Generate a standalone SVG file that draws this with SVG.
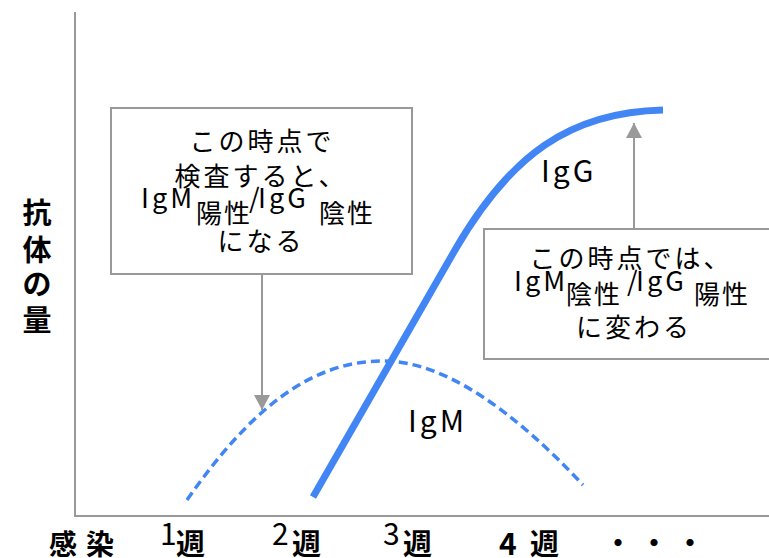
<svg xmlns="http://www.w3.org/2000/svg" width="769" height="558" viewBox="0 0 769 558">
<style>
text{font-family:"Noto Sans CJK JP","Noto Sans",sans-serif;fill:#000}
.box{fill:#fff;stroke:#999;stroke-width:2}
.ax{stroke:#999;stroke-width:2;fill:none}
.arr{stroke:#999;stroke-width:2;fill:none;marker-end:url(#ah)}
.jp{font-size:26px;letter-spacing:3px}
.jp2{font-size:26px;letter-spacing:2px}
.lat{font-size:27px;letter-spacing:3px}
.lbl{font-size:30px;letter-spacing:3px}
.yl{font-size:29px;font-weight:bold}
.wk{font-size:29px;font-weight:bold}
.num{font-size:30px}
</style>
<defs>
<marker id="ah" markerUnits="userSpaceOnUse" markerWidth="16" markerHeight="16" refX="15" refY="8" orient="auto" viewBox="0 0 16 16">
<path d="M0,0 L15,8 L0,16 z" fill="#999"/>
</marker>
</defs>
<g id="axes">
<line class="ax" x1="75" y1="12" x2="75" y2="516"/>
<line class="ax" x1="74" y1="516" x2="769" y2="516"/>
</g>
<g id="curves">
<path d="M187,500 C250,410 310,361 383,361 C445,361 515,412 583,485" fill="none" stroke="#4285F4" stroke-width="3.5" stroke-dasharray="9 5"/>
<path d="M313,497 L455,250 C510,155 570,112 663,110" fill="none" stroke="#4285F4" stroke-width="7"/>
</g>
<g id="curve-labels">
<text class="lbl" x="541" y="182">IgG</text>
<text class="lbl" x="408" y="432">IgM</text>
</g>
<g id="box1">
<rect class="box" x="111" y="108" width="301" height="166"/>
<text class="jp" x="262" y="151" text-anchor="middle">この時点で</text>
<text class="jp" x="261" y="186" text-anchor="middle">検査すると、</text>
<text><tspan class="lat" x="141" y="208">IgM</tspan><tspan class="jp2" x="196" y="223">陽性</tspan><tspan class="lat" x="249" y="208">/</tspan><tspan class="lat" x="258" y="208">IgG</tspan><tspan class="jp2" x="319" y="223">陰性</tspan></text>
<text class="jp" x="261" y="251" text-anchor="middle">になる</text>
</g>
<g id="box2">
<rect class="box" x="484" y="229" width="295" height="130"/>
<text class="jp" x="631" y="268" text-anchor="middle">この時点では、</text>
<text><tspan class="lat" x="514" y="291">IgM</tspan><tspan class="jp2" x="566" y="304">陰性</tspan><tspan class="lat" x="627" y="291">/</tspan><tspan class="lat" x="636" y="291">IgG</tspan><tspan class="jp2" x="694" y="304">陽性</tspan></text>
<text class="jp" x="634" y="337" text-anchor="middle">に変わる</text>
</g>
<g id="connectors">
<line class="arr" x1="262" y1="274" x2="262" y2="410"/>
<line class="arr" x1="634" y1="229" x2="634" y2="123"/>
</g>
<g id="y-label">
<text class="yl" x="37" y="224" text-anchor="middle">抗</text>
<text class="yl" x="37" y="261" text-anchor="middle">体</text>
<text class="yl" x="37" y="295" text-anchor="middle">の</text>
<text class="yl" x="37" y="331" text-anchor="middle">量</text>
</g>
<g id="x-labels">
<text x="49" y="555" font-size="28" font-weight="bold" letter-spacing="9">感染</text>
<text class="num" x="160" y="545">1</text>
<text class="wk" x="176" y="555">週</text>
<text class="num" x="272" y="545">2</text>
<text class="wk" x="292" y="555">週</text>
<text class="num" x="383" y="545">3</text>
<text class="wk" x="403" y="555">週</text>
<text class="num" x="499" y="555" font-weight="bold">4</text>
<text class="wk" x="530" y="555">週</text>
<text x="604" y="554" font-size="28" font-weight="bold" letter-spacing="8">・・・</text>
</g>
</svg>
